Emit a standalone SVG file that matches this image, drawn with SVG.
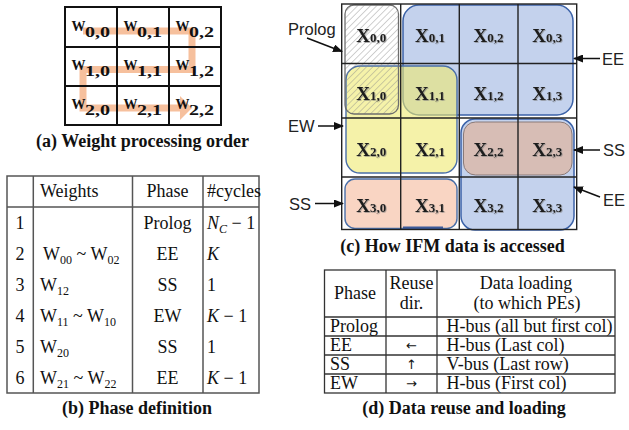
<svg xmlns="http://www.w3.org/2000/svg" width="629" height="430" viewBox="0 0 629 430">
<defs>
<style>
.cap{font-family:"Liberation Serif","Times New Roman",serif;font-weight:bold;font-size:18px;text-anchor:middle;fill:#111}
.tb{font-family:"Liberation Serif","Times New Roman",serif;font-size:18px;fill:#111}
.tm{text-anchor:middle}
.it{font-style:italic}
.ar{font-family:"DejaVu Sans",sans-serif;font-size:13px;fill:#111;text-anchor:middle}
.sans{font-family:"Liberation Sans",Arial,sans-serif;font-size:16.5px;fill:#222}
.grid{stroke:#111;stroke-width:2;fill:none}
.cgrid{stroke:#222;stroke-width:1.4;fill:none}
.tline{stroke:#555;stroke-width:1.5;fill:none}
.dline{stroke:#333;stroke-width:1.3;fill:none}
.wl{font-family:"Liberation Serif","Times New Roman",serif;font-weight:bold;font-size:14px;fill:#111}
.xl{font-family:"Liberation Serif","Times New Roman",serif;font-weight:bold;font-size:19px;fill:#1a1a1a;text-anchor:middle}
.xs{font-size:13px}
.conn{stroke:#111;stroke-width:1.5;fill:none;marker-end:url(#ah)}
.blue{fill:#c4d2ed;stroke:#3b62a8;stroke-width:1.5}
</style>
<marker id="ah" markerUnits="userSpaceOnUse" markerWidth="10" markerHeight="8" refX="9" refY="4" orient="auto"><path d="M0,0 L10,4 L0,8 z" fill="#111"/></marker>
<pattern id="hatch" patternUnits="userSpaceOnUse" width="4.5" height="4.5" patternTransform="rotate(45)"><line x1="0" y1="0" x2="0" y2="4.5" stroke="#8a8a8a" stroke-width="0.8"/></pattern>
<filter id="sh" x="-10%" y="-10%" width="130%" height="130%"><feDropShadow dx="0.7" dy="0.7" stdDeviation="0.5" flood-color="#777" flood-opacity="0.8"/></filter>
</defs>
<rect width="629" height="430" fill="#fff"/>

<!-- (a) weight processing order -->
<g id="panel-a">
  <g id="order-path" opacity="0.85">
    <path d="M83,31 H192 V69.5 H83 V108 H181" stroke="#f5b68c" stroke-width="7" fill="none"/>
    <polygon points="180,96 192,108 180,120" fill="#f5b68c"/>
  </g>
  <g id="grid-a">
    <rect x="65" y="7" width="156" height="118" class="grid"/>
    <line x1="117" y1="7" x2="117" y2="125" class="grid"/>
    <line x1="169" y1="7" x2="169" y2="125" class="grid"/>
    <line x1="65" y1="47" x2="221" y2="47" class="grid"/>
    <line x1="65" y1="86" x2="221" y2="86" class="grid"/>
  </g>
  <g id="w00"><text class="wl" x="71.5" y="30.5">W</text><text class="wl" x="85" y="36.8" textLength="25" lengthAdjust="spacingAndGlyphs">0,0</text></g>
  <g id="w01"><text class="wl" x="123.5" y="30.5">W</text><text class="wl" x="137" y="36.8" textLength="25" lengthAdjust="spacingAndGlyphs">0,1</text></g>
  <g id="w02"><text class="wl" x="175.5" y="30.5">W</text><text class="wl" x="189" y="36.8" textLength="25" lengthAdjust="spacingAndGlyphs">0,2</text></g>
  <g id="w10"><text class="wl" x="71.5" y="70">W</text><text class="wl" x="85" y="76.3" textLength="25" lengthAdjust="spacingAndGlyphs">1,0</text></g>
  <g id="w11"><text class="wl" x="123.5" y="70">W</text><text class="wl" x="137" y="76.3" textLength="25" lengthAdjust="spacingAndGlyphs">1,1</text></g>
  <g id="w12"><text class="wl" x="175.5" y="70">W</text><text class="wl" x="189" y="76.3" textLength="25" lengthAdjust="spacingAndGlyphs">1,2</text></g>
  <g id="w20"><text class="wl" x="71.5" y="108.5">W</text><text class="wl" x="85" y="114.8" textLength="25" lengthAdjust="spacingAndGlyphs">2,0</text></g>
  <g id="w21"><text class="wl" x="123.5" y="108.5">W</text><text class="wl" x="137" y="114.8" textLength="25" lengthAdjust="spacingAndGlyphs">2,1</text></g>
  <g id="w22"><text class="wl" x="175.5" y="108.5">W</text><text class="wl" x="189" y="114.8" textLength="25" lengthAdjust="spacingAndGlyphs">2,2</text></g>
  <text class="cap" x="142.5" y="147">(a) Weight processing order</text>
</g>

<!-- (b) phase definition table -->
<g id="panel-b">
  <rect x="7" y="176" width="252" height="217" class="tline"/>
  <line x1="33.3" y1="176" x2="33.3" y2="393" class="tline"/>
  <line x1="132.5" y1="176" x2="132.5" y2="393" class="tline"/>
  <line x1="203" y1="176" x2="203" y2="393" class="tline"/>
  <line x1="7" y1="207" x2="259" y2="207" class="tline"/>
  <text class="tb" x="40" y="197">Weights</text>
  <text class="tb tm" x="167.5" y="197">Phase</text>
  <text class="tb" x="207" y="197">#cycles</text>
  <g id="row1"><text class="tb tm" x="20" y="229">1</text><text class="tb tm" x="167.5" y="229">Prolog</text><text class="tb" x="207" y="229"><tspan class="it">N</tspan><tspan class="it" font-size="12" dy="4">C</tspan><tspan dy="-4"> − 1</tspan></text></g>
  <g id="row2"><text class="tb tm" x="20" y="260">2</text><text class="tb" x="43" y="260">W<tspan font-size="12" dy="4">00</tspan><tspan dy="-4"> ~ W</tspan><tspan font-size="12" dy="4">02</tspan></text><text class="tb tm" x="167.5" y="260">EE</text><text class="tb it" x="207" y="260">K</text></g>
  <g id="row3"><text class="tb tm" x="20" y="291">3</text><text class="tb" x="40" y="291">W<tspan font-size="12" dy="4">12</tspan></text><text class="tb tm" x="167.5" y="291">SS</text><text class="tb" x="207" y="291">1</text></g>
  <g id="row4"><text class="tb tm" x="20" y="322">4</text><text class="tb" x="40" y="322">W<tspan font-size="12" dy="4">11</tspan><tspan dy="-4"> ~ W</tspan><tspan font-size="12" dy="4">10</tspan></text><text class="tb tm" x="167.5" y="322">EW</text><text class="tb" x="207" y="322"><tspan class="it">K</tspan> − 1</text></g>
  <g id="row5"><text class="tb tm" x="20" y="353">5</text><text class="tb" x="40" y="353">W<tspan font-size="12" dy="4">20</tspan></text><text class="tb tm" x="167.5" y="353">SS</text><text class="tb" x="207" y="353">1</text></g>
  <g id="row6"><text class="tb tm" x="20" y="384">6</text><text class="tb" x="40" y="384">W<tspan font-size="12" dy="4">21</tspan><tspan dy="-4"> ~ W</tspan><tspan font-size="12" dy="4">22</tspan></text><text class="tb tm" x="167.5" y="384">EE</text><text class="tb" x="207" y="384"><tspan class="it">K</tspan> − 1</text></g>
  <text class="cap" x="137" y="414">(b) Phase definition</text>
</g>

<!-- (c) IFM access -->
<g id="panel-c">
  <g id="regions">
    <rect id="ee-top" x="403" y="5" width="170" height="110" rx="16" class="blue"/>
    <rect id="ee-bottom" x="461" y="119" width="113" height="111" rx="14" class="blue"/>
    <rect id="ew" x="346" y="66" width="111" height="107" rx="14" fill="#eeea70" fill-opacity="0.6" stroke="#4a6fa8" stroke-width="1.4"/>
    <rect id="ss-row2" x="463.5" y="122" width="108.5" height="53" rx="12" fill="#e0b49c" fill-opacity="0.7" stroke="#8a7a78" stroke-width="1"/>
    <rect id="ss-row3" x="345" y="179" width="112" height="49.5" rx="10" fill="#f9d5c3" stroke="#4a6fa8" stroke-width="1.4"/>
    <rect id="prolog" x="345" y="5" width="53.5" height="109" rx="9" fill="url(#hatch)" stroke="#6e6e6e" stroke-width="1.3"/>
    <rect x="403" y="226.5" width="40" height="2.8" fill="#3d5a99"/>
  </g>
  <g id="grid-c">
    <rect x="341.7" y="4" width="235" height="225.5" class="cgrid"/>
    <line x1="400.7" y1="4" x2="400.7" y2="229.5" class="cgrid"/>
    <line x1="459.3" y1="4" x2="459.3" y2="229.5" class="cgrid"/>
    <line x1="518" y1="4" x2="518" y2="229.5" class="cgrid"/>
    <line x1="341.7" y1="63.5" x2="576.7" y2="63.5" class="cgrid"/>
    <line x1="341.7" y1="118" x2="576.7" y2="118" class="cgrid"/>
    <line x1="341.7" y1="177" x2="576.7" y2="177" class="cgrid"/>
  </g>
  <g id="xlabels" filter="url(#sh)">
    <g id="x00"><text class="xl" x="371.2" y="41.7">X<tspan class="xs">0,0</tspan></text></g>
    <g id="x01"><text class="xl" x="430" y="41.7">X<tspan class="xs">0,1</tspan></text></g>
    <g id="x02"><text class="xl" x="488.6" y="41.7">X<tspan class="xs">0,2</tspan></text></g>
    <g id="x03"><text class="xl" x="547.3" y="41.7">X<tspan class="xs">0,3</tspan></text></g>
    <g id="x10"><text class="xl" x="371.2" y="99.5">X<tspan class="xs">1,0</tspan></text></g>
    <g id="x11"><text class="xl" x="430" y="99.5">X<tspan class="xs">1,1</tspan></text></g>
    <g id="x12"><text class="xl" x="488.6" y="99.5">X<tspan class="xs">1,2</tspan></text></g>
    <g id="x13"><text class="xl" x="547.3" y="99.5">X<tspan class="xs">1,3</tspan></text></g>
    <g id="x20"><text class="xl" x="371.2" y="156">X<tspan class="xs">2,0</tspan></text></g>
    <g id="x21"><text class="xl" x="430" y="156">X<tspan class="xs">2,1</tspan></text></g>
    <g id="x22"><text class="xl" x="488.6" y="156">X<tspan class="xs">2,2</tspan></text></g>
    <g id="x23"><text class="xl" x="547.3" y="156">X<tspan class="xs">2,3</tspan></text></g>
    <g id="x30"><text class="xl" x="371.2" y="211.5">X<tspan class="xs">3,0</tspan></text></g>
    <g id="x31"><text class="xl" x="430" y="211.5">X<tspan class="xs">3,1</tspan></text></g>
    <g id="x32"><text class="xl" x="488.6" y="211.5">X<tspan class="xs">3,2</tspan></text></g>
    <g id="x33"><text class="xl" x="547.3" y="211.5">X<tspan class="xs">3,3</tspan></text></g>
  </g>
  <g id="labels">
    <text class="sans" x="288" y="35">Prolog</text>
    <text class="sans" x="602" y="65">EE</text>
    <text class="sans" x="288" y="132">EW</text>
    <text class="sans" x="603" y="156">SS</text>
    <text class="sans" x="603" y="206">EE</text>
    <text class="sans" x="289" y="209.5">SS</text>
  </g>
  <text class="cap" x="452.5" y="252">(c) How IFM data is accessed</text>
</g>

<g id="connectors">
  <line x1="307" y1="38" x2="342" y2="51.5" class="conn"/>
  <line x1="600" y1="58.5" x2="574" y2="58.5" class="conn"/>
  <line x1="318" y1="126" x2="343" y2="126" class="conn"/>
  <line x1="600" y1="150" x2="574" y2="150" class="conn"/>
  <line x1="600" y1="197" x2="574" y2="187" class="conn"/>
  <line x1="315" y1="203.5" x2="343" y2="203.5" class="conn"/>
</g>

<!-- (d) data reuse and loading -->
<g id="panel-d">
  <rect x="324.5" y="270" width="290.5" height="123" class="dline"/>
  <line x1="386" y1="270" x2="386" y2="393" class="dline"/>
  <line x1="437" y1="270" x2="437" y2="393" class="dline"/>
  <line x1="324.5" y1="317" x2="615" y2="317" class="dline"/>
  <line x1="324.5" y1="336" x2="615" y2="336" class="dline"/>
  <line x1="324.5" y1="355" x2="615" y2="355" class="dline"/>
  <line x1="324.5" y1="374" x2="615" y2="374" class="dline"/>
  <text class="tb tm" x="355" y="299">Phase</text>
  <text class="tb tm" x="411.5" y="289">Reuse</text>
  <text class="tb tm" x="411.5" y="309">dir.</text>
  <text class="tb tm" x="526" y="289">Data loading</text>
  <text class="tb tm" x="527" y="309">(to which PEs)</text>
  <g id="d-prolog"><text class="tb" x="330" y="331.5">Prolog</text><text class="tb" x="446.5" y="331.5" textLength="166" lengthAdjust="spacingAndGlyphs">H-bus (all but first col)</text></g>
  <g id="d-ee"><text class="tb" x="330" y="350.5">EE</text><text class="ar" x="411.5" y="350">←</text><text class="tb" x="446.5" y="350.5">H-bus (Last col)</text></g>
  <g id="d-ss"><text class="tb" x="330" y="369.5">SS</text><text class="ar" x="411.5" y="368.5">↑</text><text class="tb" x="446.5" y="369.5">V-bus (Last row)</text></g>
  <g id="d-ew"><text class="tb" x="330" y="388.5">EW</text><text class="ar" x="411.5" y="388">→</text><text class="tb" x="446.5" y="388.5">H-bus (First col)</text></g>
  <text class="cap" x="464" y="414">(d) Data reuse and loading</text>
</g>
</svg>
